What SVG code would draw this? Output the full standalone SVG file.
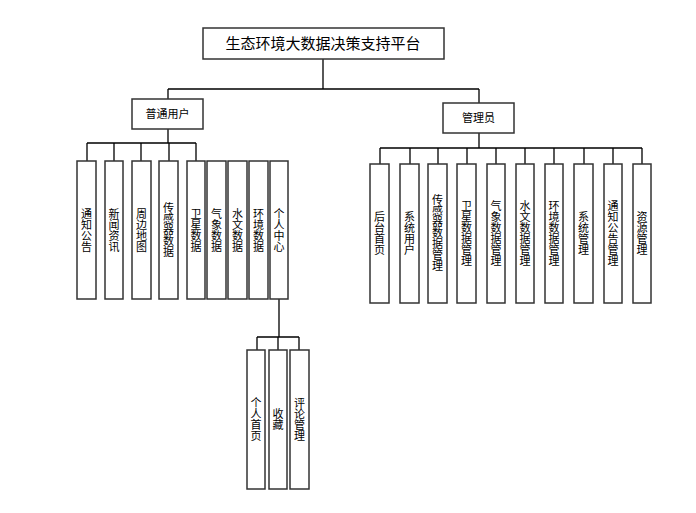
<svg xmlns="http://www.w3.org/2000/svg" width="696" height="513" viewBox="0 0 696 513">
<style>
rect{fill:#fff;stroke:#333;stroke-width:1.5}
text{font-family:"Noto Sans CJK SC","Liberation Sans",sans-serif;font-size:11px;fill:#000;text-anchor:middle}
.v{writing-mode:vertical-rl;dominant-baseline:central}
.c line,.c path{stroke:#000;stroke-width:1.3;fill:none}
</style>
<rect width="696" height="513" style="fill:#fff;stroke:none"/>
<g class="c" id="connectors">
<path d="M323 59V89M168 89H479M168 89V99M479 89V103"/>
<path d="M168 129V143M87 143H196M87 143V161M114 143V161M141 143V161M169 143V161M196 143V161"/>
<path d="M479 133V148M380 148H642M380 148V164M410 148V164M438 148V164M467 148V164M496 148V164M525 148V164M554 148V164M584 148V164M613 148V164M642 148V164"/>
<path d="M279 299V337M257 337H299M257 337V350M278 337V350M299 337V350"/>
</g>
<g id="root"><rect x="203" y="28" width="241" height="31"/><text x="323" y="49" style="font-size:15px">生态环境大数据决策支持平台</text></g>
<g id="user"><rect x="132" y="99" width="71" height="30"/><text x="167.5" y="118">普通用户</text></g>
<g id="admin"><rect x="443" y="103" width="71" height="30"/><text x="478.5" y="122">管理员</text></g>
<g id="u1"><rect x="77" y="161" width="19" height="138"/><text class="v" x="86.5" y="230">通知公告</text></g>
<g id="u2"><rect x="105" y="161" width="18" height="138"/><text class="v" x="114" y="230">新闻资讯</text></g>
<g id="u3"><rect x="132" y="161" width="19" height="138"/><text class="v" x="141.5" y="230">周边地图</text></g>
<g id="u4"><rect x="159" y="161" width="19" height="138"/><text class="v" x="168.5" y="230">传感器数据</text></g>
<g id="u5"><rect x="187" y="161" width="18" height="138"/><text class="v" x="196" y="230">卫星数据</text></g>
<g id="u6"><rect x="207" y="161" width="19" height="138"/><text class="v" x="216.5" y="230">气象数据</text></g>
<g id="u7"><rect x="228" y="161" width="19" height="138"/><text class="v" x="237.5" y="230">水文数据</text></g>
<g id="u8"><rect x="249" y="161" width="19" height="138"/><text class="v" x="258.5" y="230">环境数据</text></g>
<g id="u9"><rect x="270" y="161" width="18" height="138"/><text class="v" x="279" y="230">个人中心</text></g>
<g id="p1"><rect x="247" y="350" width="18" height="139"/><text class="v" x="256" y="419">个人首页</text></g>
<g id="p2"><rect x="269" y="350" width="18" height="139"/><text class="v" x="278" y="419">收藏</text></g>
<g id="p3"><rect x="290" y="350" width="19" height="139"/><text class="v" x="299.5" y="419">评论管理</text></g>
<g id="a1"><rect x="370" y="164" width="19" height="139"/><text class="v" x="379.5" y="233">后台首页</text></g>
<g id="a2"><rect x="400" y="164" width="19" height="139"/><text class="v" x="409.5" y="233">系统用户</text></g>
<g id="a3"><rect x="428" y="164" width="19" height="139"/><text class="v" x="437.5" y="233">传感器数据管理</text></g>
<g id="a4"><rect x="457" y="164" width="19" height="139"/><text class="v" x="466.5" y="233">卫星数据管理</text></g>
<g id="a5"><rect x="487" y="164" width="18" height="139"/><text class="v" x="496" y="233">气象数据管理</text></g>
<g id="a6"><rect x="516" y="164" width="18" height="139"/><text class="v" x="525" y="233">水文数据管理</text></g>
<g id="a7"><rect x="545" y="164" width="18" height="139"/><text class="v" x="554" y="233">环境数据管理</text></g>
<g id="a8"><rect x="574" y="164" width="19" height="139"/><text class="v" x="583.5" y="233">系统管理</text></g>
<g id="a9"><rect x="604" y="164" width="18" height="139"/><text class="v" x="613" y="233">通知公告管理</text></g>
<g id="a10"><rect x="633" y="164" width="18" height="139"/><text class="v" x="642" y="233">资源管理</text></g>
</svg>
